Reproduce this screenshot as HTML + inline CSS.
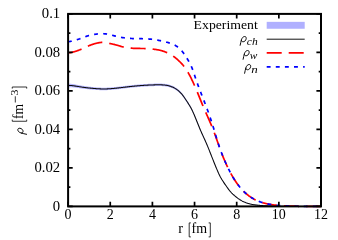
<!DOCTYPE html>
<html><head><meta charset="utf-8"><title>plot</title>
<style>
html,body{margin:0;padding:0;background:#fff;}
svg{display:block;will-change:transform;}
text{font-family:"Liberation Serif",serif;fill:#000;}
</style></head>
<body>
<svg width="338" height="240" viewBox="0 0 338 240">
<rect width="338" height="240" fill="#fff"/>
<defs><path id="rho" d="M0.4,3.5 C0.8,1.6 1.2,-0.3 1.7,-2.0 C2.3,-4.1 3.6,-5.3 4.9,-5.3 C6.1,-5.3 6.65,-4.4 6.45,-3.1 C6.15,-1.3 4.8,-0.05 3.4,-0.05 C2.3,-0.05 1.55,-0.7 1.6,-1.7" fill="none" stroke="#000" stroke-width="0.95" stroke-linecap="round" stroke-linejoin="round"/></defs>
<!-- experiment band -->
<path d="M68.10,83.60 L68.61,83.63 L69.11,83.66 L69.62,83.70 L70.13,83.74 L70.63,83.79 L71.14,83.85 L71.65,83.91 L72.15,83.98 L72.66,84.05 L73.17,84.12 L73.67,84.20 L74.18,84.28 L74.69,84.37 L75.20,84.46 L75.70,84.55 L76.21,84.64 L76.72,84.73 L77.22,84.82 L77.73,84.92 L78.24,85.01 L78.74,85.10 L79.25,85.19 L79.76,85.29 L80.26,85.37 L80.77,85.46 L81.28,85.55 L81.78,85.63 L82.29,85.71 L82.80,85.79 L83.30,85.87 L83.81,85.95 L84.32,86.02 L84.82,86.10 L85.33,86.17 L85.84,86.24 L86.35,86.31 L86.85,86.37 L87.36,86.44 L87.87,86.50 L88.37,86.57 L88.88,86.63 L89.39,86.69 L89.89,86.75 L90.40,86.80 L90.91,86.86 L91.41,86.91 L91.92,86.97 L92.43,87.02 L92.93,87.07 L93.44,87.12 L93.95,87.17 L94.45,87.21 L94.96,87.26 L95.47,87.30 L95.97,87.34 L96.48,87.38 L96.99,87.42 L97.50,87.46 L98.00,87.49 L98.51,87.52 L99.02,87.55 L99.52,87.57 L100.03,87.60 L100.54,87.62 L101.04,87.64 L101.55,87.65 L102.06,87.67 L102.56,87.68 L103.07,87.68 L103.58,87.69 L104.08,87.69 L104.59,87.68 L105.10,87.68 L105.60,87.67 L106.11,87.66 L106.62,87.64 L107.12,87.62 L107.63,87.60 L108.14,87.58 L108.65,87.55 L109.15,87.53 L109.66,87.49 L110.17,87.46 L110.67,87.43 L111.18,87.39 L111.69,87.35 L112.19,87.31 L112.70,87.27 L113.21,87.22 L113.71,87.18 L114.22,87.13 L114.73,87.08 L115.23,87.03 L115.74,86.98 L116.25,86.93 L116.75,86.87 L117.26,86.82 L117.77,86.76 L118.27,86.71 L118.78,86.65 L119.29,86.59 L119.79,86.53 L120.30,86.47 L120.81,86.41 L121.32,86.35 L121.82,86.29 L122.33,86.23 L122.84,86.17 L123.34,86.11 L123.85,86.05 L124.36,85.99 L124.86,85.93 L125.37,85.86 L125.88,85.80 L126.38,85.74 L126.89,85.68 L127.40,85.63 L127.90,85.57 L128.41,85.51 L128.92,85.45 L129.42,85.40 L129.93,85.34 L130.44,85.28 L130.94,85.23 L131.45,85.18 L131.96,85.12 L132.47,85.07 L132.97,85.02 L133.48,84.97 L133.99,84.92 L134.49,84.87 L135.00,84.82 L135.51,84.78 L136.01,84.73 L136.52,84.68 L137.03,84.64 L137.53,84.59 L138.04,84.55 L138.55,84.51 L139.05,84.47 L139.56,84.42 L140.07,84.38 L140.57,84.34 L141.08,84.31 L141.59,84.27 L142.09,84.23 L142.60,84.20 L143.11,84.16 L143.62,84.13 L144.12,84.09 L144.63,84.06 L145.14,84.03 L145.64,84.00 L146.15,83.97 L146.66,83.94 L147.16,83.91 L147.67,83.88 L148.18,83.86 L148.68,83.83 L149.19,83.81 L149.70,83.78 L150.20,83.76 L150.71,83.74 L151.22,83.72 L151.72,83.70 L152.23,83.68 L152.74,83.66 L153.24,83.65 L153.75,83.63 L154.26,83.62 L154.77,83.60 L155.27,83.59 L155.78,83.58 L156.29,83.57 L156.79,83.56 L157.30,83.56 L157.81,83.55 L158.31,83.55 L158.82,83.55 L159.33,83.55 L159.83,83.56 L160.34,83.57 L160.85,83.58 L161.35,83.60 L161.86,83.62 L162.37,83.64 L162.87,83.67 L163.38,83.70 L163.89,83.74 L164.39,83.79 L164.90,83.84 L165.41,83.90 L165.92,83.97 L166.42,84.05 L166.93,84.13 L167.44,84.23 L167.94,84.34 L168.45,84.46 L168.96,84.60 L169.46,84.74 L169.97,84.90 L170.48,85.07 L170.98,85.25 L171.49,85.44 L172.00,85.65 L172.50,85.87 L173.01,86.10 L173.52,86.34 L174.02,86.59 L174.53,86.86 L175.04,87.15 L175.54,87.45 L176.05,87.77 L176.56,88.11 L177.06,88.46 L177.57,88.84 L178.08,89.24 L178.59,89.66 L179.09,90.11 L179.60,90.58 L180.11,91.08 L180.61,91.61 L181.12,92.16 L181.63,92.74 L182.13,93.36 L182.64,94.01 L183.15,94.68 L183.65,95.39 L184.16,96.12 L184.67,96.86 L185.17,97.62 L185.68,98.38 L186.19,99.14 L186.69,99.91 L187.20,100.68 L187.71,101.46 L188.21,102.25 L188.72,103.05 L189.23,103.88 L189.74,104.73 L190.24,105.61 L190.75,106.52 L191.26,107.47 L191.76,108.46 L192.27,109.49 L192.78,110.57 L193.28,111.68 L193.79,112.84 L194.30,114.02 L194.80,115.23 L195.31,116.46 L195.82,117.71 L196.32,118.98 L196.83,120.25 L197.34,121.52 L197.84,122.80 L198.35,124.07 L198.86,125.34 L199.36,126.59 L199.87,127.82 L200.38,129.03 L200.89,130.22 L201.39,131.38 L201.90,132.53 L202.41,133.66 L202.91,134.78 L203.42,135.89 L203.93,137.01 L204.43,138.12 L204.94,139.24 L205.45,140.38 L205.95,141.52 L206.46,142.69 L206.97,143.88 L207.47,145.09 L207.98,146.34 L208.49,147.60 L208.99,148.88 L209.50,150.17 L210.01,151.46 L210.51,152.77 L211.02,154.07 L211.53,155.36 L212.04,156.65 L212.54,157.94 L213.05,159.22 L213.56,160.49 L214.06,161.76 L214.57,163.03 L215.08,164.29 L215.58,165.55 L216.09,166.80 L216.60,168.04 L217.10,169.26 L217.61,170.45 L218.12,171.62 L218.62,172.75 L219.13,173.85 L219.64,174.90 L220.14,175.90 L220.65,176.85 L221.16,177.76 L221.66,178.62 L222.17,179.46 L222.68,180.27 L223.18,181.06 L223.69,181.83 L224.20,182.59 L224.71,183.34 L225.21,184.07 L225.72,184.81 L226.23,185.54 L226.73,186.26 L227.24,186.99 L227.75,187.70 L228.25,188.40 L228.76,189.08 L229.27,189.74 L229.77,190.38 L230.28,190.99 L230.79,191.57 L231.29,192.12 L231.80,192.65 L232.31,193.16 L232.81,193.65 L233.32,194.12 L233.83,194.58 L234.33,195.03 L234.84,195.47 L235.35,195.90 L235.86,196.32 L236.36,196.73 L236.87,197.13 L237.38,197.53 L237.88,197.91 L238.39,198.28 L238.90,198.63 L239.40,198.98 L239.91,199.31 L240.42,199.63 L240.92,199.94 L241.43,200.23 L241.94,200.51 L242.44,200.77 L242.95,201.02 L243.46,201.26 L243.96,201.49 L244.47,201.71 L244.98,201.92 L245.48,202.13 L245.99,202.32 L246.50,202.51 L247.01,202.68 L247.51,202.85 L248.02,203.02 L248.53,203.17 L249.03,203.32 L249.54,203.46 L250.05,203.59 L250.55,203.72 L251.06,203.84 L251.57,203.95 L252.07,204.05 L252.58,204.14 L253.09,204.23 L253.59,204.31 L254.10,204.39 L254.61,204.46 L255.11,204.53 L255.62,204.59 L256.13,204.65 L256.63,204.70 L257.14,204.76 L257.65,204.81 L258.16,204.86 L258.66,204.91 L259.17,204.95 L259.68,205.00 L260.18,205.05 L260.69,205.09 L261.20,205.13 L261.70,205.17 L262.21,205.21 L262.72,205.25 L263.22,205.29 L263.73,205.33 L264.24,205.36 L264.74,205.39 L265.25,205.42 L265.76,205.45 L266.26,205.48 L266.77,205.51 L267.28,205.53 L267.78,205.56 L268.29,205.58 L268.80,205.60 L269.31,205.62 L269.81,205.64 L270.32,205.66 L270.83,205.68 L271.33,205.69 L271.84,205.71 L272.35,205.73 L272.85,205.74 L273.36,205.76 L273.87,205.77 L274.37,205.79 L274.88,205.80 L275.39,205.81 L275.89,205.82 L276.40,205.83 L276.91,205.84 L277.41,205.85 L277.92,205.86 L278.43,205.87 L278.93,205.88 L279.44,205.89 L279.95,205.90 L280.45,205.91 L280.96,205.91 L281.47,205.92 L281.98,205.93 L282.48,205.93 L282.99,205.94 L283.50,205.94 L284.00,205.95 L284.51,205.95 L285.02,205.96 L285.52,205.96 L286.03,205.97 L286.54,205.97 L287.04,205.98 L287.55,205.98 L288.06,205.99 L288.56,205.99 L289.07,205.99 L289.58,206.00 L290.08,206.00 L290.59,206.00 L291.10,206.01 L291.60,206.01 L292.11,206.01 L292.62,206.02 L293.13,206.02 L293.63,206.02 L294.14,206.03 L294.65,206.03 L295.15,206.03 L295.66,206.03 L296.17,206.04 L296.67,206.04 L297.18,206.04 L297.69,206.04 L298.19,206.04 L298.70,206.05 L299.21,206.05 L299.71,206.05 L300.22,206.05 L300.73,206.05 L301.23,206.05 L301.74,206.05 L302.25,206.05 L302.75,206.05 L303.26,206.05 L303.77,206.05 L304.28,206.05 L304.78,206.05 L305.29,206.05 L305.80,206.05 L306.30,206.05 L306.81,206.05 L307.32,206.05 L307.82,206.05 L308.33,206.05 L308.84,206.05 L309.34,206.05 L309.85,206.05 L310.36,206.05 L310.86,206.05 L311.37,206.05 L311.88,206.05 L312.38,206.05 L312.89,206.05 L313.40,206.05 L313.90,206.05 L314.41,206.05 L314.92,206.04 L315.43,206.04 L315.93,206.04 L316.44,206.04 L316.95,206.04 L317.45,206.04 L317.96,206.05 L318.47,206.05 L318.97,206.05 L319.48,206.05 L319.99,206.05 L320.49,206.05 L321.00,206.05 L321.00,206.40 L320.49,206.40 L319.99,206.40 L319.48,206.40 L318.97,206.40 L318.47,206.40 L317.96,206.40 L317.45,206.40 L316.95,206.40 L316.44,206.40 L315.93,206.40 L315.43,206.40 L314.92,206.40 L314.41,206.40 L313.90,206.40 L313.40,206.40 L312.89,206.40 L312.38,206.40 L311.88,206.40 L311.37,206.40 L310.86,206.40 L310.36,206.40 L309.85,206.40 L309.34,206.40 L308.84,206.40 L308.33,206.40 L307.82,206.40 L307.32,206.40 L306.81,206.40 L306.30,206.40 L305.80,206.40 L305.29,206.40 L304.78,206.40 L304.28,206.40 L303.77,206.40 L303.26,206.40 L302.75,206.40 L302.25,206.40 L301.74,206.40 L301.23,206.40 L300.73,206.40 L300.22,206.40 L299.71,206.40 L299.21,206.40 L298.70,206.40 L298.19,206.40 L297.69,206.40 L297.18,206.40 L296.67,206.40 L296.17,206.40 L295.66,206.40 L295.15,206.40 L294.65,206.40 L294.14,206.40 L293.63,206.40 L293.13,206.40 L292.62,206.40 L292.11,206.40 L291.60,206.40 L291.10,206.40 L290.59,206.40 L290.08,206.40 L289.58,206.40 L289.07,206.40 L288.56,206.40 L288.06,206.40 L287.55,206.40 L287.04,206.40 L286.54,206.40 L286.03,206.40 L285.52,206.40 L285.02,206.40 L284.51,206.40 L284.00,206.40 L283.50,206.40 L282.99,206.40 L282.48,206.40 L281.98,206.40 L281.47,206.40 L280.96,206.40 L280.45,206.40 L279.95,206.40 L279.44,206.40 L278.93,206.40 L278.43,206.40 L277.92,206.40 L277.41,206.40 L276.91,206.40 L276.40,206.40 L275.89,206.40 L275.39,206.40 L274.88,206.40 L274.37,206.40 L273.87,206.40 L273.36,206.40 L272.85,206.40 L272.35,206.40 L271.84,206.40 L271.33,206.40 L270.83,206.38 L270.32,206.36 L269.81,206.35 L269.31,206.33 L268.80,206.31 L268.29,206.28 L267.78,206.26 L267.28,206.24 L266.77,206.21 L266.26,206.19 L265.76,206.16 L265.25,206.13 L264.74,206.10 L264.24,206.07 L263.73,206.04 L263.22,206.00 L262.72,205.97 L262.21,205.93 L261.70,205.89 L261.20,205.85 L260.69,205.80 L260.18,205.76 L259.68,205.71 L259.17,205.67 L258.66,205.62 L258.16,205.57 L257.65,205.52 L257.14,205.47 L256.63,205.42 L256.13,205.37 L255.62,205.31 L255.11,205.25 L254.61,205.18 L254.10,205.11 L253.59,205.04 L253.09,204.96 L252.58,204.87 L252.07,204.78 L251.57,204.68 L251.06,204.57 L250.55,204.45 L250.05,204.33 L249.54,204.20 L249.03,204.06 L248.53,203.92 L248.02,203.76 L247.51,203.60 L247.01,203.43 L246.50,203.26 L245.99,203.07 L245.48,202.88 L244.98,202.68 L244.47,202.48 L243.96,202.26 L243.46,202.03 L242.95,201.80 L242.44,201.55 L241.94,201.29 L241.43,201.01 L240.92,200.73 L240.42,200.43 L239.91,200.11 L239.40,199.78 L238.90,199.44 L238.39,199.09 L237.88,198.73 L237.38,198.35 L236.87,197.96 L236.36,197.57 L235.86,197.16 L235.35,196.75 L234.84,196.32 L234.33,195.89 L233.83,195.45 L233.32,194.99 L232.81,194.53 L232.31,194.05 L231.80,193.55 L231.29,193.03 L230.79,192.48 L230.28,191.91 L229.77,191.31 L229.27,190.68 L228.76,190.03 L228.25,189.36 L227.75,188.67 L227.24,187.97 L226.73,187.25 L226.23,186.54 L225.72,185.82 L225.21,185.10 L224.71,184.37 L224.20,183.63 L223.69,182.89 L223.18,182.13 L222.68,181.35 L222.17,180.55 L221.66,179.73 L221.16,178.87 L220.65,177.98 L220.14,177.04 L219.64,176.06 L219.13,175.02 L218.62,173.94 L218.12,172.83 L217.61,171.68 L217.10,170.50 L216.60,169.29 L216.09,168.08 L215.58,166.84 L215.08,165.61 L214.57,164.36 L214.06,163.12 L213.56,161.86 L213.05,160.61 L212.54,159.35 L212.04,158.08 L211.53,156.81 L211.02,155.53 L210.51,154.25 L210.01,152.97 L209.50,151.69 L208.99,150.42 L208.49,149.16 L207.98,147.91 L207.47,146.69 L206.97,145.49 L206.46,144.32 L205.95,143.17 L205.45,142.04 L204.94,140.93 L204.43,139.82 L203.93,138.72 L203.42,137.63 L202.91,136.53 L202.41,135.42 L201.90,134.31 L201.39,133.18 L200.89,132.03 L200.38,130.87 L199.87,129.67 L199.36,128.46 L198.86,127.23 L198.35,125.98 L197.84,124.73 L197.34,123.47 L196.83,122.21 L196.32,120.96 L195.82,119.71 L195.31,118.48 L194.80,117.27 L194.30,116.08 L193.79,114.91 L193.28,113.77 L192.78,112.67 L192.27,111.61 L191.76,110.59 L191.26,109.62 L190.75,108.68 L190.24,107.79 L189.74,106.92 L189.23,106.08 L188.72,105.27 L188.21,104.47 L187.71,103.70 L187.20,102.93 L186.69,102.17 L186.19,101.42 L185.68,100.66 L185.17,99.91 L184.67,99.17 L184.16,98.44 L183.65,97.72 L183.15,97.02 L182.64,96.36 L182.13,95.72 L181.63,95.11 L181.12,94.54 L180.61,93.99 L180.11,93.47 L179.60,92.98 L179.09,92.52 L178.59,92.08 L178.08,91.66 L177.57,91.27 L177.06,90.89 L176.56,90.54 L176.05,90.21 L175.54,89.89 L175.04,89.60 L174.53,89.32 L174.02,89.05 L173.52,88.80 L173.01,88.56 L172.50,88.34 L172.00,88.12 L171.49,87.92 L170.98,87.73 L170.48,87.55 L169.97,87.38 L169.46,87.23 L168.96,87.08 L168.45,86.95 L167.94,86.83 L167.44,86.73 L166.93,86.63 L166.42,86.54 L165.92,86.47 L165.41,86.40 L164.90,86.34 L164.39,86.29 L163.89,86.24 L163.38,86.20 L162.87,86.17 L162.37,86.14 L161.86,86.12 L161.35,86.10 L160.85,86.08 L160.34,86.07 L159.83,86.06 L159.33,86.06 L158.82,86.05 L158.31,86.05 L157.81,86.05 L157.30,86.06 L156.79,86.07 L156.29,86.07 L155.78,86.08 L155.27,86.09 L154.77,86.11 L154.26,86.12 L153.75,86.13 L153.24,86.15 L152.74,86.17 L152.23,86.18 L151.72,86.20 L151.22,86.22 L150.71,86.24 L150.20,86.26 L149.70,86.29 L149.19,86.31 L148.68,86.33 L148.18,86.36 L147.67,86.38 L147.16,86.41 L146.66,86.44 L146.15,86.47 L145.64,86.50 L145.14,86.53 L144.63,86.56 L144.12,86.59 L143.62,86.63 L143.11,86.66 L142.60,86.69 L142.09,86.73 L141.59,86.77 L141.08,86.80 L140.57,86.84 L140.07,86.88 L139.56,86.92 L139.05,86.96 L138.55,87.00 L138.04,87.05 L137.53,87.09 L137.03,87.13 L136.52,87.18 L136.01,87.22 L135.51,87.27 L135.00,87.32 L134.49,87.36 L133.99,87.41 L133.48,87.46 L132.97,87.51 L132.47,87.56 L131.96,87.62 L131.45,87.67 L130.94,87.72 L130.44,87.77 L129.93,87.83 L129.42,87.88 L128.92,87.94 L128.41,88.00 L127.90,88.06 L127.40,88.11 L126.89,88.17 L126.38,88.23 L125.88,88.29 L125.37,88.35 L124.86,88.41 L124.36,88.47 L123.85,88.53 L123.34,88.60 L122.84,88.66 L122.33,88.72 L121.82,88.78 L121.32,88.84 L120.81,88.90 L120.30,88.96 L119.79,89.02 L119.29,89.08 L118.78,89.14 L118.27,89.19 L117.77,89.25 L117.26,89.31 L116.75,89.36 L116.25,89.42 L115.74,89.47 L115.23,89.52 L114.73,89.57 L114.22,89.62 L113.71,89.67 L113.21,89.72 L112.70,89.76 L112.19,89.81 L111.69,89.85 L111.18,89.89 L110.67,89.93 L110.17,89.96 L109.66,90.00 L109.15,90.03 L108.65,90.06 L108.14,90.08 L107.63,90.11 L107.12,90.13 L106.62,90.15 L106.11,90.17 L105.60,90.18 L105.10,90.20 L104.59,90.21 L104.08,90.21 L103.58,90.21 L103.07,90.21 L102.56,90.21 L102.06,90.21 L101.55,90.20 L101.04,90.18 L100.54,90.17 L100.03,90.15 L99.52,90.13 L99.02,90.11 L98.51,90.09 L98.00,90.06 L97.50,90.03 L96.99,90.01 L96.48,89.97 L95.97,89.94 L95.47,89.90 L94.96,89.87 L94.45,89.83 L93.95,89.79 L93.44,89.75 L92.93,89.71 L92.43,89.66 L91.92,89.62 L91.41,89.57 L90.91,89.53 L90.40,89.48 L89.89,89.43 L89.39,89.38 L88.88,89.33 L88.37,89.28 L87.87,89.23 L87.36,89.17 L86.85,89.12 L86.35,89.06 L85.84,89.01 L85.33,88.95 L84.82,88.89 L84.32,88.83 L83.81,88.77 L83.30,88.71 L82.80,88.64 L82.29,88.58 L81.78,88.51 L81.28,88.45 L80.77,88.38 L80.26,88.31 L79.76,88.24 L79.25,88.17 L78.74,88.09 L78.24,88.02 L77.73,87.95 L77.22,87.88 L76.72,87.81 L76.21,87.74 L75.70,87.67 L75.20,87.60 L74.69,87.54 L74.18,87.48 L73.67,87.43 L73.17,87.38 L72.66,87.33 L72.15,87.29 L71.65,87.26 L71.14,87.23 L70.63,87.20 L70.13,87.19 L69.62,87.18 L69.11,87.18 L68.61,87.18 L68.10,87.20Z" fill="#b4b4ff" stroke="none"/>
<path d="M68.10,85.40 L68.61,85.40 L69.11,85.42 L69.62,85.44 L70.13,85.46 L70.63,85.50 L71.14,85.54 L71.65,85.58 L72.15,85.63 L72.66,85.69 L73.17,85.75 L73.67,85.82 L74.18,85.88 L74.69,85.96 L75.20,86.03 L75.70,86.11 L76.21,86.19 L76.72,86.27 L77.22,86.35 L77.73,86.43 L78.24,86.51 L78.74,86.60 L79.25,86.68 L79.76,86.76 L80.26,86.84 L80.77,86.92 L81.28,87.00 L81.78,87.07 L82.29,87.15 L82.80,87.22 L83.30,87.29 L83.81,87.36 L84.32,87.43 L84.82,87.49 L85.33,87.56 L85.84,87.62 L86.35,87.69 L86.85,87.75 L87.36,87.81 L87.87,87.87 L88.37,87.92 L88.88,87.98 L89.39,88.03 L89.89,88.09 L90.40,88.14 L90.91,88.19 L91.41,88.24 L91.92,88.29 L92.43,88.34 L92.93,88.39 L93.44,88.43 L93.95,88.48 L94.45,88.52 L94.96,88.56 L95.47,88.60 L95.97,88.64 L96.48,88.68 L96.99,88.71 L97.50,88.75 L98.00,88.78 L98.51,88.80 L99.02,88.83 L99.52,88.85 L100.03,88.88 L100.54,88.89 L101.04,88.91 L101.55,88.92 L102.06,88.94 L102.56,88.94 L103.07,88.95 L103.58,88.95 L104.08,88.95 L104.59,88.94 L105.10,88.94 L105.60,88.93 L106.11,88.91 L106.62,88.90 L107.12,88.88 L107.63,88.86 L108.14,88.83 L108.65,88.81 L109.15,88.78 L109.66,88.75 L110.17,88.71 L110.67,88.68 L111.18,88.64 L111.69,88.60 L112.19,88.56 L112.70,88.52 L113.21,88.47 L113.71,88.42 L114.22,88.38 L114.73,88.33 L115.23,88.28 L115.74,88.22 L116.25,88.17 L116.75,88.12 L117.26,88.06 L117.77,88.01 L118.27,87.95 L118.78,87.89 L119.29,87.83 L119.79,87.78 L120.30,87.72 L120.81,87.66 L121.32,87.60 L121.82,87.53 L122.33,87.47 L122.84,87.41 L123.34,87.35 L123.85,87.29 L124.36,87.23 L124.86,87.17 L125.37,87.11 L125.88,87.05 L126.38,86.99 L126.89,86.93 L127.40,86.87 L127.90,86.81 L128.41,86.75 L128.92,86.70 L129.42,86.64 L129.93,86.58 L130.44,86.53 L130.94,86.48 L131.45,86.42 L131.96,86.37 L132.47,86.32 L132.97,86.27 L133.48,86.22 L133.99,86.17 L134.49,86.12 L135.00,86.07 L135.51,86.02 L136.01,85.98 L136.52,85.93 L137.03,85.89 L137.53,85.84 L138.04,85.80 L138.55,85.76 L139.05,85.71 L139.56,85.67 L140.07,85.63 L140.57,85.59 L141.08,85.55 L141.59,85.52 L142.09,85.48 L142.60,85.44 L143.11,85.41 L143.62,85.38 L144.12,85.34 L144.63,85.31 L145.14,85.28 L145.64,85.25 L146.15,85.22 L146.66,85.19 L147.16,85.16 L147.67,85.13 L148.18,85.11 L148.68,85.08 L149.19,85.06 L149.70,85.03 L150.20,85.01 L150.71,84.99 L151.22,84.97 L151.72,84.95 L152.23,84.93 L152.74,84.92 L153.24,84.90 L153.75,84.88 L154.26,84.87 L154.77,84.86 L155.27,84.84 L155.78,84.83 L156.29,84.82 L156.79,84.81 L157.30,84.81 L157.81,84.80 L158.31,84.80 L158.82,84.80 L159.33,84.81 L159.83,84.81 L160.34,84.82 L160.85,84.83 L161.35,84.85 L161.86,84.87 L162.37,84.89 L162.87,84.92 L163.38,84.95 L163.89,84.99 L164.39,85.04 L164.90,85.09 L165.41,85.15 L165.92,85.22 L166.42,85.29 L166.93,85.38 L167.44,85.48 L167.94,85.59 L168.45,85.71 L168.96,85.84 L169.46,85.99 L169.97,86.14 L170.48,86.31 L170.98,86.49 L171.49,86.68 L172.00,86.89 L172.50,87.10 L173.01,87.33 L173.52,87.57 L174.02,87.82 L174.53,88.09 L175.04,88.37 L175.54,88.67 L176.05,88.99 L176.56,89.32 L177.06,89.68 L177.57,90.05 L178.08,90.45 L178.59,90.87 L179.09,91.31 L179.60,91.78 L180.11,92.28 L180.61,92.80 L181.12,93.35 L181.63,93.93 L182.13,94.54 L182.64,95.18 L183.15,95.85 L183.65,96.55 L184.16,97.28 L184.67,98.01 L185.17,98.77 L185.68,99.52 L186.19,100.28 L186.69,101.04 L187.20,101.80 L187.71,102.58 L188.21,103.36 L188.72,104.16 L189.23,104.98 L189.74,105.82 L190.24,106.70 L190.75,107.60 L191.26,108.54 L191.76,109.53 L192.27,110.55 L192.78,111.62 L193.28,112.73 L193.79,113.87 L194.30,115.05 L194.80,116.25 L195.31,117.47 L195.82,118.71 L196.32,119.97 L196.83,121.23 L197.34,122.50 L197.84,123.76 L198.35,125.03 L198.86,126.28 L199.36,127.52 L199.87,128.75 L200.38,129.95 L200.89,131.13 L201.39,132.28 L201.90,133.42 L202.41,134.54 L202.91,135.65 L203.42,136.76 L203.93,137.86 L204.43,138.97 L204.94,140.08 L205.45,141.21 L205.95,142.35 L206.46,143.51 L206.97,144.69 L207.47,145.89 L207.98,147.12 L208.49,148.38 L208.99,149.65 L209.50,150.93 L210.01,152.22 L210.51,153.51 L211.02,154.80 L211.53,156.09 L212.04,157.37 L212.54,158.64 L213.05,159.91 L213.56,161.18 L214.06,162.44 L214.57,163.70 L215.08,164.95 L215.58,166.20 L216.09,167.44 L216.60,168.66 L217.10,169.88 L217.61,171.06 L218.12,172.22 L218.62,173.35 L219.13,174.44 L219.64,175.48 L220.14,176.47 L220.65,177.42 L221.16,178.31 L221.66,179.18 L222.17,180.01 L222.68,180.81 L223.18,181.59 L223.69,182.36 L224.20,183.11 L224.71,183.85 L225.21,184.59 L225.72,185.31 L226.23,186.04 L226.73,186.76 L227.24,187.48 L227.75,188.18 L228.25,188.88 L228.76,189.56 L229.27,190.21 L229.77,190.85 L230.28,191.45 L230.79,192.02 L231.29,192.57 L231.80,193.10 L232.31,193.60 L232.81,194.09 L233.32,194.56 L233.83,195.01 L234.33,195.46 L234.84,195.89 L235.35,196.32 L235.86,196.74 L236.36,197.15 L236.87,197.55 L237.38,197.94 L237.88,198.32 L238.39,198.68 L238.90,199.04 L239.40,199.38 L239.91,199.71 L240.42,200.03 L240.92,200.33 L241.43,200.62 L241.94,200.90 L242.44,201.16 L242.95,201.41 L243.46,201.65 L243.96,201.88 L244.47,202.10 L244.98,202.30 L245.48,202.50 L245.99,202.70 L246.50,202.88 L247.01,203.06 L247.51,203.23 L248.02,203.39 L248.53,203.54 L249.03,203.69 L249.54,203.83 L250.05,203.96 L250.55,204.09 L251.06,204.20 L251.57,204.31 L252.07,204.41 L252.58,204.51 L253.09,204.60 L253.59,204.68 L254.10,204.75 L254.61,204.82 L255.11,204.89 L255.62,204.95 L256.13,205.01 L256.63,205.06 L257.14,205.11 L257.65,205.17 L258.16,205.22 L258.66,205.26 L259.17,205.31 L259.68,205.36 L260.18,205.40 L260.69,205.45 L261.20,205.49 L261.70,205.53 L262.21,205.57 L262.72,205.61 L263.22,205.65 L263.73,205.68 L264.24,205.72 L264.74,205.75 L265.25,205.78 L265.76,205.81 L266.26,205.83 L266.77,205.86 L267.28,205.89 L267.78,205.91 L268.29,205.93 L268.80,205.95 L269.31,205.97 L269.81,205.99 L270.32,206.01 L270.83,206.03 L271.33,206.05 L271.84,206.06 L272.35,206.08 L272.85,206.09 L273.36,206.11 L273.87,206.12 L274.37,206.14 L274.88,206.15 L275.39,206.16 L275.89,206.17 L276.40,206.18 L276.91,206.20 L277.41,206.21 L277.92,206.22 L278.43,206.22 L278.93,206.23 L279.44,206.24 L279.95,206.25 L280.45,206.26 L280.96,206.26 L281.47,206.27 L281.98,206.28 L282.48,206.28 L282.99,206.29 L283.50,206.30 L284.00,206.30 L284.51,206.31 L285.02,206.31 L285.52,206.32 L286.03,206.32 L286.54,206.32 L287.04,206.33 L287.55,206.33 L288.06,206.34 L288.56,206.34 L289.07,206.34 L289.58,206.35 L290.08,206.35 L290.59,206.35 L291.10,206.36 L291.60,206.36 L292.11,206.36 L292.62,206.37 L293.13,206.37 L293.63,206.37 L294.14,206.38 L294.65,206.38 L295.15,206.38 L295.66,206.38 L296.17,206.39 L296.67,206.39 L297.18,206.39 L297.69,206.39 L298.19,206.39 L298.70,206.40 L299.21,206.40 L299.71,206.40 L300.22,206.40 L300.73,206.40 L301.23,206.40 L301.74,206.40 L302.25,206.40 L302.75,206.40 L303.26,206.40 L303.77,206.40 L304.28,206.40 L304.78,206.40 L305.29,206.40 L305.80,206.40 L306.30,206.40 L306.81,206.40 L307.32,206.40 L307.82,206.40 L308.33,206.40 L308.84,206.40 L309.34,206.40 L309.85,206.40 L310.36,206.40 L310.86,206.40 L311.37,206.40 L311.88,206.40 L312.38,206.40 L312.89,206.40 L313.40,206.40 L313.90,206.40 L314.41,206.40 L314.92,206.40 L315.43,206.39 L315.93,206.39 L316.44,206.39 L316.95,206.39 L317.45,206.39 L317.96,206.40 L318.47,206.40 L318.97,206.40 L319.48,206.40 L319.99,206.40 L320.49,206.40 L321.00,206.40" fill="none" stroke="#0c0c0c" stroke-width="1.05" stroke-linejoin="round"/>
<path d="M68.10,52.80 L68.61,52.79 L69.11,52.76 L69.62,52.72 L70.13,52.66 L70.63,52.59 L71.14,52.50 L71.65,52.40 L72.15,52.29 L72.66,52.17 L73.17,52.04 L73.67,51.90 L74.18,51.75 L74.69,51.60 L75.20,51.44 L75.70,51.28 L76.21,51.11 L76.72,50.94 L77.22,50.76 L77.73,50.58 L78.24,50.39 L78.74,50.20 L79.25,50.01 L79.76,49.81 L80.26,49.60 L80.77,49.40 L81.28,49.18 L81.78,48.96 L82.29,48.74 L82.80,48.51 L83.30,48.28 L83.81,48.05 L84.32,47.82 L84.82,47.58 L85.33,47.35 L85.84,47.11 L86.35,46.88 L86.85,46.65 L87.36,46.42 L87.87,46.20 L88.37,45.97 L88.88,45.76 L89.39,45.55 L89.89,45.34 L90.40,45.14 L90.91,44.95 L91.41,44.77 L91.92,44.59 L92.43,44.42 L92.93,44.26 L93.44,44.10 L93.95,43.94 L94.45,43.80 L94.96,43.65 L95.47,43.52 L95.97,43.38 L96.48,43.25 L96.99,43.13 L97.50,43.01 L98.00,42.90 L98.51,42.79 L99.02,42.70 L99.52,42.61 L100.03,42.54 L100.54,42.48 L101.04,42.43 L101.55,42.41 L102.06,42.39 L102.56,42.40 L103.07,42.42 L103.58,42.45 L104.08,42.50 L104.59,42.56 L105.10,42.63 L105.60,42.70 L106.11,42.79 L106.62,42.88 L107.12,42.97 L107.63,43.07 L108.14,43.17 L108.65,43.27 L109.15,43.37 L109.66,43.47 L110.17,43.57 L110.67,43.67 L111.18,43.77 L111.69,43.88 L112.19,43.98 L112.70,44.09 L113.21,44.21 L113.71,44.32 L114.22,44.44 L114.73,44.57 L115.23,44.70 L115.74,44.83 L116.25,44.97 L116.75,45.11 L117.26,45.26 L117.77,45.41 L118.27,45.56 L118.78,45.72 L119.29,45.87 L119.79,46.02 L120.30,46.18 L120.81,46.33 L121.32,46.47 L121.82,46.62 L122.33,46.75 L122.84,46.88 L123.34,47.01 L123.85,47.13 L124.36,47.24 L124.86,47.34 L125.37,47.44 L125.88,47.53 L126.38,47.61 L126.89,47.69 L127.40,47.77 L127.90,47.83 L128.41,47.90 L128.92,47.95 L129.42,48.01 L129.93,48.06 L130.44,48.10 L130.94,48.14 L131.45,48.18 L131.96,48.22 L132.47,48.25 L132.97,48.28 L133.48,48.31 L133.99,48.33 L134.49,48.35 L135.00,48.37 L135.51,48.39 L136.01,48.41 L136.52,48.42 L137.03,48.43 L137.53,48.44 L138.04,48.45 L138.55,48.46 L139.05,48.46 L139.56,48.47 L140.07,48.47 L140.57,48.48 L141.08,48.48 L141.59,48.48 L142.09,48.49 L142.60,48.49 L143.11,48.50 L143.62,48.51 L144.12,48.52 L144.63,48.54 L145.14,48.55 L145.64,48.57 L146.15,48.60 L146.66,48.62 L147.16,48.65 L147.67,48.68 L148.18,48.72 L148.68,48.75 L149.19,48.79 L149.70,48.83 L150.20,48.88 L150.71,48.93 L151.22,48.97 L151.72,49.03 L152.23,49.08 L152.74,49.14 L153.24,49.19 L153.75,49.25 L154.26,49.32 L154.77,49.38 L155.27,49.45 L155.78,49.52 L156.29,49.60 L156.79,49.68 L157.30,49.76 L157.81,49.85 L158.31,49.94 L158.82,50.04 L159.33,50.15 L159.83,50.26 L160.34,50.38 L160.85,50.51 L161.35,50.64 L161.86,50.78 L162.37,50.93 L162.87,51.08 L163.38,51.24 L163.89,51.41 L164.39,51.59 L164.90,51.78 L165.41,51.97 L165.92,52.17 L166.42,52.38 L166.93,52.60 L167.44,52.83 L167.94,53.06 L168.45,53.31 L168.96,53.56 L169.46,53.83 L169.97,54.10 L170.48,54.39 L170.98,54.69 L171.49,55.00 L172.00,55.32 L172.50,55.65 L173.01,56.00 L173.52,56.36 L174.02,56.73 L174.53,57.11 L175.04,57.51 L175.54,57.92 L176.05,58.33 L176.56,58.76 L177.06,59.20 L177.57,59.65 L178.08,60.10 L178.59,60.56 L179.09,61.03 L179.60,61.51 L180.11,62.00 L180.61,62.51 L181.12,63.03 L181.63,63.57 L182.13,64.13 L182.64,64.71 L183.15,65.31 L183.65,65.94 L184.16,66.60 L184.67,67.28 L185.17,67.99 L185.68,68.72 L186.19,69.48 L186.69,70.27 L187.20,71.08 L187.71,71.92 L188.21,72.78 L188.72,73.67 L189.23,74.58 L189.74,75.51 L190.24,76.48 L190.75,77.46 L191.26,78.47 L191.76,79.51 L192.27,80.57 L192.78,81.65 L193.28,82.75 L193.79,83.88 L194.30,85.02 L194.80,86.18 L195.31,87.35 L195.82,88.54 L196.32,89.75 L196.83,90.96 L197.34,92.18 L197.84,93.41 L198.35,94.65 L198.86,95.89 L199.36,97.13 L199.87,98.37 L200.38,99.62 L200.89,100.86 L201.39,102.10 L201.90,103.34 L202.41,104.56 L202.91,105.78 L203.42,106.99 L203.93,108.19 L204.43,109.38 L204.94,110.55 L205.45,111.71 L205.95,112.86 L206.46,114.00 L206.97,115.14 L207.47,116.27 L207.98,117.41 L208.49,118.55 L208.99,119.70 L209.50,120.86 L210.01,122.04 L210.51,123.23 L211.02,124.45 L211.53,125.68 L212.04,126.94 L212.54,128.23 L213.05,129.53 L213.56,130.85 L214.06,132.19 L214.57,133.55 L215.08,134.92 L215.58,136.30 L216.09,137.70 L216.60,139.10 L217.10,140.52 L217.61,141.93 L218.12,143.36 L218.62,144.78 L219.13,146.21 L219.64,147.64 L220.14,149.05 L220.65,150.46 L221.16,151.84 L221.66,153.20 L222.17,154.53 L222.68,155.82 L223.18,157.09 L223.69,158.32 L224.20,159.53 L224.71,160.72 L225.21,161.88 L225.72,163.02 L226.23,164.14 L226.73,165.24 L227.24,166.32 L227.75,167.39 L228.25,168.44 L228.76,169.46 L229.27,170.47 L229.77,171.46 L230.28,172.42 L230.79,173.37 L231.29,174.29 L231.80,175.20 L232.31,176.08 L232.81,176.95 L233.32,177.79 L233.83,178.62 L234.33,179.43 L234.84,180.23 L235.35,181.00 L235.86,181.76 L236.36,182.50 L236.87,183.22 L237.38,183.92 L237.88,184.61 L238.39,185.28 L238.90,185.94 L239.40,186.58 L239.91,187.20 L240.42,187.81 L240.92,188.40 L241.43,188.97 L241.94,189.53 L242.44,190.08 L242.95,190.61 L243.46,191.12 L243.96,191.63 L244.47,192.11 L244.98,192.59 L245.48,193.05 L245.99,193.50 L246.50,193.94 L247.01,194.37 L247.51,194.78 L248.02,195.18 L248.53,195.57 L249.03,195.95 L249.54,196.32 L250.05,196.67 L250.55,197.02 L251.06,197.35 L251.57,197.68 L252.07,197.99 L252.58,198.30 L253.09,198.59 L253.59,198.88 L254.10,199.15 L254.61,199.42 L255.11,199.68 L255.62,199.93 L256.13,200.18 L256.63,200.41 L257.14,200.64 L257.65,200.86 L258.16,201.07 L258.66,201.28 L259.17,201.48 L259.68,201.67 L260.18,201.86 L260.69,202.04 L261.20,202.21 L261.70,202.37 L262.21,202.54 L262.72,202.69 L263.22,202.84 L263.73,202.98 L264.24,203.12 L264.74,203.26 L265.25,203.39 L265.76,203.51 L266.26,203.63 L266.77,203.75 L267.28,203.86 L267.78,203.97 L268.29,204.07 L268.80,204.17 L269.31,204.26 L269.81,204.36 L270.32,204.45 L270.83,204.53 L271.33,204.61 L271.84,204.69 L272.35,204.77 L272.85,204.84 L273.36,204.91 L273.87,204.97 L274.37,205.04 L274.88,205.10 L275.39,205.16 L275.89,205.21 L276.40,205.27 L276.91,205.32 L277.41,205.37 L277.92,205.41 L278.43,205.46 L278.93,205.50 L279.44,205.54 L279.95,205.58 L280.45,205.62 L280.96,205.66 L281.47,205.69 L281.98,205.73 L282.48,205.76 L282.99,205.79 L283.50,205.82 L284.00,205.85 L284.51,205.88 L285.02,205.90 L285.52,205.93 L286.03,205.95 L286.54,205.97 L287.04,206.00 L287.55,206.02 L288.06,206.03 L288.56,206.05 L289.07,206.07 L289.58,206.09 L290.08,206.10 L290.59,206.12 L291.10,206.13 L291.60,206.14 L292.11,206.16 L292.62,206.17 L293.13,206.18 L293.63,206.19 L294.14,206.20 L294.65,206.21 L295.15,206.22 L295.66,206.23 L296.17,206.24 L296.67,206.25 L297.18,206.26 L297.69,206.27 L298.19,206.28 L298.70,206.28 L299.21,206.29 L299.71,206.30 L300.22,206.30 L300.73,206.31 L301.23,206.31 L301.74,206.32 L302.25,206.32 L302.75,206.33 L303.26,206.33 L303.77,206.34 L304.28,206.34 L304.78,206.35 L305.29,206.35 L305.80,206.35 L306.30,206.36 L306.81,206.36 L307.32,206.36 L307.82,206.36 L308.33,206.37 L308.84,206.37 L309.34,206.37 L309.85,206.37 L310.36,206.38 L310.86,206.38 L311.37,206.38 L311.88,206.38 L312.38,206.38 L312.89,206.39 L313.40,206.39 L313.90,206.39 L314.41,206.39 L314.92,206.39 L315.43,206.39 L315.93,206.39 L316.44,206.40 L316.95,206.40 L317.45,206.40 L317.96,206.40 L318.47,206.40 L318.97,206.40 L319.48,206.40 L319.99,206.40 L320.49,206.40 L321.00,206.40" fill="none" stroke="#ff0000" stroke-width="1.7" stroke-dasharray="15 7" stroke-dashoffset="1.0" stroke-linejoin="round"/>
<path d="M68.10,41.60 L68.61,41.59 L69.11,41.56 L69.62,41.51 L70.13,41.45 L70.63,41.37 L71.14,41.28 L71.65,41.18 L72.15,41.07 L72.66,40.94 L73.17,40.81 L73.67,40.68 L74.18,40.54 L74.69,40.39 L75.20,40.24 L75.70,40.09 L76.21,39.94 L76.72,39.79 L77.22,39.63 L77.73,39.47 L78.24,39.30 L78.74,39.14 L79.25,38.96 L79.76,38.79 L80.26,38.60 L80.77,38.42 L81.28,38.23 L81.78,38.03 L82.29,37.84 L82.80,37.64 L83.30,37.44 L83.81,37.25 L84.32,37.05 L84.82,36.86 L85.33,36.68 L85.84,36.49 L86.35,36.32 L86.85,36.15 L87.36,35.99 L87.87,35.84 L88.37,35.69 L88.88,35.55 L89.39,35.42 L89.89,35.29 L90.40,35.17 L90.91,35.05 L91.41,34.94 L91.92,34.84 L92.43,34.74 L92.93,34.64 L93.44,34.55 L93.95,34.47 L94.45,34.38 L94.96,34.31 L95.47,34.23 L95.97,34.16 L96.48,34.09 L96.99,34.03 L97.50,33.97 L98.00,33.92 L98.51,33.87 L99.02,33.82 L99.52,33.79 L100.03,33.76 L100.54,33.73 L101.04,33.71 L101.55,33.70 L102.06,33.70 L102.56,33.70 L103.07,33.71 L103.58,33.73 L104.08,33.76 L104.59,33.79 L105.10,33.84 L105.60,33.89 L106.11,33.95 L106.62,34.01 L107.12,34.09 L107.63,34.18 L108.14,34.27 L108.65,34.37 L109.15,34.48 L109.66,34.60 L110.17,34.72 L110.67,34.85 L111.18,34.98 L111.69,35.12 L112.19,35.25 L112.70,35.39 L113.21,35.53 L113.71,35.67 L114.22,35.81 L114.73,35.94 L115.23,36.07 L115.74,36.19 L116.25,36.32 L116.75,36.44 L117.26,36.56 L117.77,36.67 L118.27,36.78 L118.78,36.89 L119.29,36.99 L119.79,37.10 L120.30,37.19 L120.81,37.29 L121.32,37.38 L121.82,37.47 L122.33,37.55 L122.84,37.63 L123.34,37.71 L123.85,37.78 L124.36,37.85 L124.86,37.92 L125.37,37.98 L125.88,38.04 L126.38,38.09 L126.89,38.15 L127.40,38.20 L127.90,38.24 L128.41,38.29 L128.92,38.33 L129.42,38.36 L129.93,38.40 L130.44,38.43 L130.94,38.46 L131.45,38.49 L131.96,38.51 L132.47,38.53 L132.97,38.55 L133.48,38.57 L133.99,38.59 L134.49,38.60 L135.00,38.61 L135.51,38.62 L136.01,38.63 L136.52,38.64 L137.03,38.65 L137.53,38.66 L138.04,38.67 L138.55,38.67 L139.05,38.68 L139.56,38.68 L140.07,38.69 L140.57,38.70 L141.08,38.70 L141.59,38.71 L142.09,38.72 L142.60,38.73 L143.11,38.74 L143.62,38.75 L144.12,38.77 L144.63,38.78 L145.14,38.80 L145.64,38.82 L146.15,38.84 L146.66,38.87 L147.16,38.89 L147.67,38.92 L148.18,38.96 L148.68,38.99 L149.19,39.03 L149.70,39.07 L150.20,39.12 L150.71,39.17 L151.22,39.22 L151.72,39.28 L152.23,39.34 L152.74,39.40 L153.24,39.47 L153.75,39.54 L154.26,39.62 L154.77,39.69 L155.27,39.77 L155.78,39.85 L156.29,39.94 L156.79,40.03 L157.30,40.12 L157.81,40.21 L158.31,40.30 L158.82,40.40 L159.33,40.50 L159.83,40.60 L160.34,40.70 L160.85,40.81 L161.35,40.92 L161.86,41.03 L162.37,41.14 L162.87,41.25 L163.38,41.37 L163.89,41.49 L164.39,41.61 L164.90,41.74 L165.41,41.87 L165.92,41.99 L166.42,42.13 L166.93,42.26 L167.44,42.40 L167.94,42.54 L168.45,42.68 L168.96,42.84 L169.46,42.99 L169.97,43.15 L170.48,43.33 L170.98,43.50 L171.49,43.69 L172.00,43.89 L172.50,44.10 L173.01,44.32 L173.52,44.55 L174.02,44.79 L174.53,45.05 L175.04,45.32 L175.54,45.61 L176.05,45.91 L176.56,46.23 L177.06,46.57 L177.57,46.93 L178.08,47.32 L178.59,47.72 L179.09,48.15 L179.60,48.61 L180.11,49.09 L180.61,49.60 L181.12,50.14 L181.63,50.71 L182.13,51.32 L182.64,51.95 L183.15,52.62 L183.65,53.31 L184.16,54.02 L184.67,54.76 L185.17,55.52 L185.68,56.29 L186.19,57.08 L186.69,57.89 L187.20,58.71 L187.71,59.54 L188.21,60.39 L188.72,61.25 L189.23,62.14 L189.74,63.07 L190.24,64.05 L190.75,65.09 L191.26,66.18 L191.76,67.35 L192.27,68.60 L192.78,69.94 L193.28,71.36 L193.79,72.84 L194.30,74.36 L194.80,75.89 L195.31,77.43 L195.82,78.94 L196.32,80.43 L196.83,81.88 L197.34,83.31 L197.84,84.72 L198.35,86.11 L198.86,87.48 L199.36,88.83 L199.87,90.17 L200.38,91.49 L200.89,92.80 L201.39,94.11 L201.90,95.41 L202.41,96.71 L202.91,98.00 L203.42,99.30 L203.93,100.59 L204.43,101.90 L204.94,103.20 L205.45,104.52 L205.95,105.85 L206.46,107.19 L206.97,108.55 L207.47,109.93 L207.98,111.32 L208.49,112.74 L208.99,114.17 L209.50,115.63 L210.01,117.11 L210.51,118.61 L211.02,120.14 L211.53,121.68 L212.04,123.25 L212.54,124.85 L213.05,126.47 L213.56,128.11 L214.06,129.78 L214.57,131.47 L215.08,133.17 L215.58,134.88 L216.09,136.59 L216.60,138.28 L217.10,139.95 L217.61,141.60 L218.12,143.20 L218.62,144.77 L219.13,146.28 L219.64,147.75 L220.14,149.17 L220.65,150.55 L221.16,151.90 L221.66,153.22 L222.17,154.52 L222.68,155.79 L223.18,157.05 L223.69,158.28 L224.20,159.50 L224.71,160.69 L225.21,161.86 L225.72,163.01 L226.23,164.14 L226.73,165.25 L227.24,166.34 L227.75,167.40 L228.25,168.45 L228.76,169.47 L229.27,170.47 L229.77,171.46 L230.28,172.42 L230.79,173.36 L231.29,174.29 L231.80,175.19 L232.31,176.08 L232.81,176.95 L233.32,177.79 L233.83,178.62 L234.33,179.43 L234.84,180.23 L235.35,181.00 L235.86,181.76 L236.36,182.50 L236.87,183.22 L237.38,183.93 L237.88,184.61 L238.39,185.28 L238.90,185.94 L239.40,186.58 L239.91,187.20 L240.42,187.81 L240.92,188.40 L241.43,188.97 L241.94,189.53 L242.44,190.08 L242.95,190.61 L243.46,191.12 L243.96,191.63 L244.47,192.11 L244.98,192.59 L245.48,193.05 L245.99,193.50 L246.50,193.94 L247.01,194.37 L247.51,194.78 L248.02,195.18 L248.53,195.57 L249.03,195.95 L249.54,196.32 L250.05,196.67 L250.55,197.02 L251.06,197.35 L251.57,197.68 L252.07,197.99 L252.58,198.30 L253.09,198.59 L253.59,198.88 L254.10,199.15 L254.61,199.42 L255.11,199.68 L255.62,199.93 L256.13,200.18 L256.63,200.41 L257.14,200.64 L257.65,200.86 L258.16,201.07 L258.66,201.28 L259.17,201.48 L259.68,201.67 L260.18,201.86 L260.69,202.04 L261.20,202.21 L261.70,202.37 L262.21,202.54 L262.72,202.69 L263.22,202.84 L263.73,202.98 L264.24,203.12 L264.74,203.26 L265.25,203.39 L265.76,203.51 L266.26,203.63 L266.77,203.75 L267.28,203.86 L267.78,203.97 L268.29,204.07 L268.80,204.17 L269.31,204.26 L269.81,204.36 L270.32,204.45 L270.83,204.53 L271.33,204.61 L271.84,204.69 L272.35,204.77 L272.85,204.84 L273.36,204.91 L273.87,204.97 L274.37,205.04 L274.88,205.10 L275.39,205.16 L275.89,205.21 L276.40,205.27 L276.91,205.32 L277.41,205.37 L277.92,205.41 L278.43,205.46 L278.93,205.50 L279.44,205.54 L279.95,205.58 L280.45,205.62 L280.96,205.66 L281.47,205.69 L281.98,205.73 L282.48,205.76 L282.99,205.79 L283.50,205.82 L284.00,205.85 L284.51,205.88 L285.02,205.90 L285.52,205.93 L286.03,205.95 L286.54,205.97 L287.04,206.00 L287.55,206.02 L288.06,206.03 L288.56,206.05 L289.07,206.07 L289.58,206.09 L290.08,206.10 L290.59,206.12 L291.10,206.13 L291.60,206.14 L292.11,206.16 L292.62,206.17 L293.13,206.18 L293.63,206.19 L294.14,206.20 L294.65,206.21 L295.15,206.22 L295.66,206.23 L296.17,206.24 L296.67,206.25 L297.18,206.26 L297.69,206.27 L298.19,206.28 L298.70,206.28 L299.21,206.29 L299.71,206.30 L300.22,206.30 L300.73,206.31 L301.23,206.31 L301.74,206.32 L302.25,206.32 L302.75,206.33 L303.26,206.33 L303.77,206.34 L304.28,206.34 L304.78,206.35 L305.29,206.35 L305.80,206.35 L306.30,206.36 L306.81,206.36 L307.32,206.36 L307.82,206.36 L308.33,206.37 L308.84,206.37 L309.34,206.37 L309.85,206.37 L310.36,206.38 L310.86,206.38 L311.37,206.38 L311.88,206.38 L312.38,206.38 L312.89,206.39 L313.40,206.39 L313.90,206.39 L314.41,206.39 L314.92,206.39 L315.43,206.39 L315.93,206.39 L316.44,206.40 L316.95,206.40 L317.45,206.40 L317.96,206.40 L318.47,206.40 L318.97,206.40 L319.48,206.40 L319.99,206.40 L320.49,206.40 L321.00,206.40" fill="none" stroke="#0000ff" stroke-width="1.7" stroke-dasharray="3.9 5.2" stroke-dashoffset="0.2" stroke-linejoin="round"/>
<!-- frame -->
<rect x="68.1" y="13.9" width="252.9" height="192.5" fill="none" stroke="#000" stroke-width="2"/>
<path d="M68.10,206.4 v-4.6 M68.10,13.9 v4.6 M110.25,206.4 v-4.6 M110.25,13.9 v4.6 M152.40,206.4 v-4.6 M152.40,13.9 v4.6 M194.55,206.4 v-4.6 M194.55,13.9 v4.6 M236.70,206.4 v-4.6 M236.70,13.9 v4.6 M278.85,206.4 v-4.6 M278.85,13.9 v4.6 M321.00,206.4 v-4.6 M321.00,13.9 v4.6 M68.1,206.40 h4.6 M321.0,206.40 h-4.6 M68.1,187.15 h2.3 M321.0,187.15 h-2.3 M68.1,167.90 h4.6 M321.0,167.90 h-4.6 M68.1,148.65 h2.3 M321.0,148.65 h-2.3 M68.1,129.40 h4.6 M321.0,129.40 h-4.6 M68.1,110.15 h2.3 M321.0,110.15 h-2.3 M68.1,90.90 h4.6 M321.0,90.90 h-4.6 M68.1,71.65 h2.3 M321.0,71.65 h-2.3 M68.1,52.40 h4.6 M321.0,52.40 h-4.6 M68.1,33.15 h2.3 M321.0,33.15 h-2.3 M68.1,13.90 h4.6 M321.0,13.90 h-4.6" stroke="#000" stroke-width="1.7" fill="none"/>
<g font-size="14"><text x="68.10" y="218.8" text-anchor="middle">0</text><text x="110.25" y="218.8" text-anchor="middle">2</text><text x="152.40" y="218.8" text-anchor="middle">4</text><text x="194.55" y="218.8" text-anchor="middle">6</text><text x="236.70" y="218.8" text-anchor="middle">8</text><text x="278.85" y="218.8" text-anchor="middle">10</text><text x="321.00" y="218.8" text-anchor="middle">12</text><text x="60.2" y="210.60" text-anchor="end" textLength="7.35" lengthAdjust="spacingAndGlyphs">0</text><text x="60.2" y="172.10" text-anchor="end" textLength="25.73" lengthAdjust="spacingAndGlyphs">0.02</text><text x="60.2" y="133.60" text-anchor="end" textLength="25.73" lengthAdjust="spacingAndGlyphs">0.04</text><text x="60.2" y="95.10" text-anchor="end" textLength="25.73" lengthAdjust="spacingAndGlyphs">0.06</text><text x="60.2" y="56.60" text-anchor="end" textLength="25.73" lengthAdjust="spacingAndGlyphs">0.08</text><text x="60.2" y="18.10" text-anchor="end" textLength="18.38" lengthAdjust="spacingAndGlyphs">0.1</text></g>
<text x="178.2" y="233.4" font-size="14.3">r</text>
<text x="191.5" y="233.4" font-size="14.3" textLength="15.5" lengthAdjust="spacingAndGlyphs">fm</text>
<path d="M190.85,222.9 H189.2 V236.9 H190.85 M208.65,222.9 H210.3 V236.9 H208.65" fill="none" stroke="#000" stroke-width="0.8"/>
<g transform="translate(23.1,134.8) rotate(-90)">
<use href="#rho" x="0.1" y="0"/>
<path d="M15.15,-10.85 H13.55 V3.6 H15.15 M46.2,-10.85 H47.8 V3.6 H46.2" fill="none" stroke="#000" stroke-width="0.8"/>
<text x="15.9" y="0" font-size="14.3" textLength="15" lengthAdjust="spacingAndGlyphs">fm</text>
<path d="M32.3,-7.8 H38.5" stroke="#000" stroke-width="0.8"/>
<text x="39.4" y="-5.4" font-size="10.3" textLength="5.9" lengthAdjust="spacingAndGlyphs">3</text>
</g>
<!-- legend -->
<text x="257.8" y="28.8" font-size="13.5" text-anchor="end" textLength="64.2" lengthAdjust="spacingAndGlyphs">Experiment</text>
<use href="#rho" x="239.75" y="41.8"/>
<text x="246.8" y="44.5" font-size="10.5" font-style="italic" textLength="10.9" lengthAdjust="spacingAndGlyphs">ch</text>
<use href="#rho" x="242.7" y="55.8"/>
<text x="249.7" y="58.5" font-size="10.5" font-style="italic" textLength="7.6" lengthAdjust="spacingAndGlyphs">w</text>
<use href="#rho" x="244.2" y="69.8"/>
<text x="251.3" y="72.5" font-size="10.5" font-style="italic" textLength="6.5" lengthAdjust="spacingAndGlyphs">n</text>
<rect x="266.7" y="21.85" width="38" height="6.9" fill="#b0b0ff"/>
<path d="M266.7,39.2 H304.7" stroke="#111" stroke-width="1"/>
<path d="M266.7,52.9 H304.7" stroke="#ff0000" stroke-width="1.7" stroke-dasharray="15 7"/>
<path d="M266.7,66.9 H304.7" stroke="#0000ff" stroke-width="1.7" stroke-dasharray="3.9 5.2"/>
</svg>
</body></html>
